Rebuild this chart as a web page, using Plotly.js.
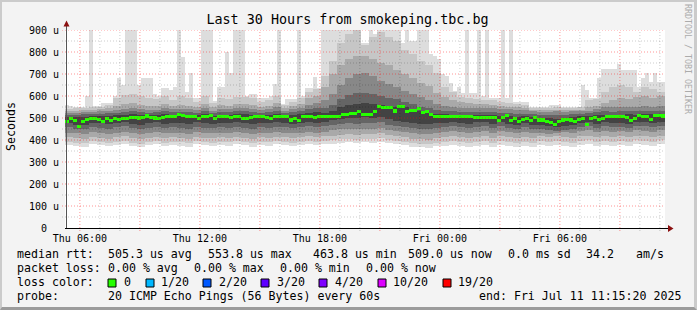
<!DOCTYPE html>
<html><head><meta charset="utf-8">
<script src="https://cdn.plot.ly/plotly-3.0.1.min.js"></script>
<style>
html,body{margin:0;padding:0;background:#f3f3f3;}
#wrap{position:relative;width:697px;height:310px;overflow:hidden;}
#chart{position:absolute;left:0;top:0;width:697px;height:310px;}
#frame{position:absolute;left:0;top:0;width:697px;height:310px;box-sizing:border-box;
 border-top:2px solid #cbcbcb;border-left:2px solid #cbcbcb;border-right:3px solid #cbcbcb;border-bottom:3px solid #9b9b9b;pointer-events:none;}
</style></head><body>
<div id="wrap"><div id="chart"></div><div id="frame"></div></div>
<script>
// ---- time axis (hours since Thu 00:00) ----
const HOURS_START = 5 + 15/60 + 20/3600;   // Thu 05:15:20
const HOURS_SPAN = 30;
const STEP_FINE = 0.2;    // 12 minute columns
const STEP_COARSE = 0.4;  // 24 minute columns (inner smoke bands)

const xTickVals = [6, 12, 18, 24, 30];
const xTickText = ['Thu 06:00', 'Thu 12:00', 'Thu 18:00', 'Fri 00:00', 'Fri 06:00'];
const xMajorGrid = [6, 9, 12, 15, 18, 21, 24, 27, 30, 33];
const xMinorGrid = [7, 8, 10, 11, 13, 14, 16, 17, 19, 20, 22, 23, 25, 26, 28, 29, 31, 32, 34, 35];
const yTickVals = [0, 100, 200, 300, 400, 500, 600, 700, 800, 900];
const yTickText = ['0\u00a0\u00a0', '100 u', '200 u', '300 u', '400 u', '500 u', '600 u', '700 u', '800 u', '900 u'];
const yMinorGrid = [50, 150, 250, 350, 450, 550, 650, 750, 850];

// ---- max rtt per 12-min column (µs) ----
const maxRtt = [
 560,555,550,548,548,600,920,556,556,570,
 570,570,600,682,651,920,920,920,651,683,
 683,683,610,600,637,637,628,640,920,777,
 616,706,592,592,920,920,920,578,640,640,
 800,706,920,920,920,600,610,610,590,590,
 590,600,655,920,565,585,585,585,920,600,
 635,635,687,635,920,920,920,920,920,920,
 920,920,920,920,840,840,920,880,920,920,
 920,920,920,920,840,920,850,850,900,900,
 900,790,780,770,700,690,660,625,640,615,
 920,615,615,920,600,920,590,590,590,920,
 590,920,575,575,575,575,550,550,550,550,
 550,560,560,560,550,550,550,550,550,651,
 628,590,590,683,722,722,722,722,745,716,
 716,716,716,640,683,706,665,706,665,665];

// ---- median rtt per 12-min column (µs) ----
const medianRtt = [
 484,499,487,462,484,493,499,499,493,486,
 496,490,498,494,496,499,503,503,500,504,
 509,504,500,496,502,508,508,508,517,511,
 508,505,505,499,508,505,510,496,508,505,
 505,502,505,505,496,496,502,508,508,508,
 503,496,508,508,508,508,491,499,487,508,
 508,508,503,505,505,505,505,508,508,514,
 514,520,520,529,518,514,518,529,551,546,
 546,546,532,551,551,529,533,533,544,523,
 529,514,505,508,508,505,508,508,505,505,
 506,506,502,502,502,502,502,502,487,502,
 511,488,496,486,493,499,488,503,491,491,
 484,478,470,486,491,493,491,486,493,499,
 472,499,503,493,499,508,505,508,508,508,
 503,490,496,511,508,508,493,510,510,509];

// ---- smoke bands per 24-min column (µs) ----
const minRtt = [
 378,372,370,380,376,372,378,382,374,368,376,380,372,378,374,370,380,376,372,378,374,380,376,370,378,374,380,376,372,378,382,376,
 380,384,388,390,386,390,388,392,385,380,376,370,368,365,372,
 375,378,372,368,374,378,370,376,372,368,374,370,376,372,378,374,370,376,380,372,378,374,376,372,380,378,374,380];
const band2Lo = [
 392,388,386,394,390,388,392,396,388,384,390,394,388,392,390,386,394,390,388,392,390,394,390,386,392,390,394,392,388,392,396,392,
 396,400,404,406,402,406,404,408,400,396,392,386,384,382,388,
 392,394,390,386,392,396,388,394,390,386,392,388,394,390,396,392,388,394,398,390,396,392,394,390,398,396,392,398];
const band2Hi = [
 542,545,545,552,552,560,590,604,610,600,590,585,600,584,600,590,575,600,570,592,588,596,595,590,575,580,600,560,575,590,620,630,
 690,760,840,880,900,830,870,890,870,850,810,790,760,740,705,
 640,620,595,590,585,580,580,575,570,565,560,545,545,546,548,545,545,548,580,585,620,640,650,640,620,640,630,620];
const band3Lo = [
 412,408,406,414,410,406,412,416,408,404,410,414,408,412,410,406,414,410,408,412,410,414,410,406,412,410,414,412,408,412,416,412,
 416,420,424,428,424,428,426,430,422,416,412,406,404,402,408,
 414,418,412,408,414,418,410,416,412,408,414,410,416,412,418,414,410,416,420,412,418,414,416,412,420,418,414,420];
const band3Hi = [
 530,532,535,538,540,544,556,562,566,560,556,555,562,556,560,556,550,562,548,560,556,564,562,558,552,556,566,545,556,562,590,600,
 640,700,740,770,782,780,770,750,740,720,700,680,660,646,615,
 595,580,572,568,565,562,560,556,552,548,545,535,535,535,538,535,536,538,548,556,566,580,592,588,596,602,590,598];
const band4Lo = [
 434,430,428,436,432,428,434,438,430,426,432,436,430,434,432,428,436,432,430,434,432,436,432,428,434,432,436,434,430,434,438,434,
 438,444,448,452,448,452,450,454,446,440,436,430,428,426,432,
 436,440,436,432,438,442,434,440,436,432,438,430,432,428,432,436,434,440,444,436,442,438,440,436,444,442,438,444];
const band4Hi = [
 522,524,526,528,530,532,538,542,546,542,538,538,544,540,542,540,536,544,534,542,540,546,544,540,536,540,548,534,540,546,560,570,
 580,610,650,680,700,705,690,670,655,640,625,610,595,580,565,
 556,550,546,544,544,546,544,540,540,536,536,530,528,528,530,528,530,530,534,540,548,552,552,548,552,556,552,556];
const band5Lo = [
 458,452,450,458,455,452,458,462,454,450,456,460,454,458,456,452,460,456,454,458,456,460,456,452,458,456,460,458,454,458,462,458,
 462,468,472,476,472,478,476,480,470,464,460,454,452,450,456,
 458,462,458,454,460,464,456,462,456,452,458,452,448,444,440,444,448,458,464,456,462,458,460,456,464,462,458,464];
const band5Hi = [
 514,515,516,518,520,522,524,526,530,528,524,526,530,526,528,526,524,530,522,528,526,530,530,526,524,526,532,522,526,530,540,545,
 545,560,585,605,612,615,608,600,592,585,575,565,552,545,538,
 532,530,528,526,526,528,526,522,522,518,520,516,514,512,512,514,518,520,524,528,530,528,530,532,530,532,534,532];
const band6Lo = [
 478,470,468,478,476,472,478,482,474,470,476,480,474,478,476,472,480,476,474,478,476,480,476,472,478,476,480,478,474,478,482,478,
 484,490,496,502,498,504,500,506,494,486,482,476,474,472,478,
 478,482,478,474,480,484,474,480,474,470,476,470,466,462,458,462,466,478,482,474,480,476,478,474,482,480,476,482];
const band6Hi = [
 506,505,506,508,510,511,512,514,516,514,512,514,516,514,515,514,512,516,510,514,513,516,516,514,512,514,518,512,514,516,522,526,
 524,532,548,560,562,566,564,560,556,552,548,540,530,524,518,
 516,514,514,512,512,514,512,508,510,506,508,506,502,500,496,500,504,508,510,512,514,512,514,516,514,516,518,516];

// ---- legend texts ----
const statLine1 = ['median rtt:', '505.3 us avg', '553.8 us max', '463.8 us min', '509.0 us now', '0.0 ms sd', '34.2', 'am/s'];
const statLine2 = ['packet loss:', '0.00 % avg', '0.00 % max', '0.00 % min', '0.00 % now'];
const lossLabels = ['0', '1/20', '2/20', '3/20', '4/20', '10/20', '19/20'];
const lossColors = ['#26ff00', '#00b8ff', '#0059ff', '#5e00ff', '#7e00ff', '#dd00ff', '#ff0000'];
const probeLine = ['probe:', '20 ICMP Echo Pings (56 Bytes) every 60s', 'end: Fri Jul 11 11:15:20 2025'];

// ---- layout geometry (pixels) ----
const W = 697, H = 310, L = 65, R = 32, T = 30, B = 82;
const PW = W - L - R, PH = H - T - B;
const fx = px => (px - L) / PW;
const fy = py => (H - B - py) / PH;
const FONT = 'DejaVu Sans Mono';
const MEDIAN_HALF = 7;

const fineX = maxRtt.map((_, i) => HOURS_START + (i + 0.5) * STEP_FINE);
const coarseX = minRtt.map((_, j) => HOURS_START + (j + 0.5) * STEP_COARSE);

function band(x, lo, hi, width, color) {
  return {type: 'bar', x: x, base: lo, y: hi.map((h, k) => h - lo[k]), width: width,
    marker: {color: color, line: {width: 0}}, hoverinfo: 'skip', showlegend: false};
}
const traces = [
  band(fineX, maxRtt.map((_, i) => minRtt[i >> 1]), maxRtt, STEP_FINE, '#dddddd'),
  band(coarseX, band2Lo, band2Hi, STEP_COARSE, '#c6c6c6'),
  band(coarseX, band3Lo, band3Hi, STEP_COARSE, '#a9a9a9'),
  band(coarseX, band4Lo, band4Hi, STEP_COARSE, '#888888'),
  band(coarseX, band5Lo, band5Hi, STEP_COARSE, '#656565'),
  band(coarseX, band6Lo, band6Hi, STEP_COARSE, '#434343'),
  band(fineX, medianRtt.map(v => v - MEDIAN_HALF), medianRtt.map(v => v + MEDIAN_HALF), STEP_FINE, lossColors[0])
];

const shapes = [];
const MAJ = 'rgba(255,0,0,0.42)', MIN = 'rgba(0,0,0,0.2)';
yMinorGrid.forEach(v => shapes.push({type:'line', layer:'above', xref:'paper', yref:'y', x0:fx(62), x1:1, y0:v, y1:v, line:{color:MIN, width:1, dash:'1px,2px'}}));
yTickVals.filter(v => v > 0).forEach(v => shapes.push({type:'line', layer:'above', xref:'paper', yref:'y', x0:fx(62), x1:1, y0:v, y1:v, line:{color:MAJ, width:1, dash:'1px,2px'}}));
xMinorGrid.forEach(h => shapes.push({type:'line', layer:'above', xref:'x', yref:'paper', x0:h, x1:h, y0:fy(231), y1:1, line:{color:MIN, width:1, dash:'1px,2px'}}));
xMajorGrid.forEach(h => shapes.push({type:'line', layer:'above', xref:'x', yref:'paper', x0:h, x1:h, y0:fy(231), y1:1, line:{color:MAJ, width:1, dash:'1px,2px'}}));
// axes
shapes.push({type:'line', layer:'above', xref:'paper', yref:'paper', x0:fx(66.5), x1:fx(66.5), y0:fy(228.5), y1:fy(25), line:{color:'#555555', width:1}});
shapes.push({type:'line', layer:'above', xref:'paper', yref:'paper', x0:fx(65), x1:fx(668), y0:fy(228.5), y1:fy(228.5), line:{color:'#000000', width:1}});
const tri = pts => 'M' + pts.map(p => fx(p[0]) + ',' + fy(p[1])).join('L') + 'Z';
shapes.push({type:'path', layer:'above', xref:'paper', yref:'paper', path: tri([[668,225],[673.5,228.5],[668,232]]), fillcolor:'#8b1010', line:{width:0}});
shapes.push({type:'path', layer:'above', xref:'paper', yref:'paper', path: tri([[63.5,26.5],[66.5,20.5],[69.5,26.5]]), fillcolor:'#8b1010', line:{width:0}});

// legend boxes
const boxX = [108, 146, 203, 261, 319, 378, 443];
const labX = [123, 160, 218, 276, 334, 392, 457];
lossColors.forEach((c, k) => shapes.push({type:'rect', layer:'above', xref:'paper', yref:'paper',
  x0:fx(boxX[k]), x1:fx(boxX[k] + 8), y0:fy(287), y1:fy(279), fillcolor:c, line:{color:'#000', width:1}}));

const annotations = [];
function txt(s, px, py, size, extra) {
  annotations.push(Object.assign({text: s, x: fx(px), y: fy(py), xref:'paper', yref:'paper', showarrow:false,
    xanchor:'left', yanchor:'middle', borderpad:0, font:{family:FONT, size:size, color:'#000'}}, extra || {}));
}
const LS = 11.6;
[16, 107, 207, 312, 407, 507, 585, 635].forEach((px, k) => txt(statLine1[k], px, 254.3, LS));
[16, 107, 193, 279, 365].forEach((px, k) => txt(statLine2[k], px, 268.3, LS));
txt('loss color:', 16, 282.3, LS);
lossLabels.forEach((s, k) => txt(s, labX[k], 282.3, LS));
[16, 107, 478].forEach((px, k) => txt(probeLine[k], px, 295.7, LS));
txt('Seconds', 11, 127, LS, {xanchor:'center', textangle:-90});
txt('RRDTOOL / TOBI OETIKER', 688, 59, 8.3, {xanchor:'center', textangle:90, font:{family:FONT, size:8.3, color:'#ababab'}});

const layout = {
  width: W, height: H,
  margin: {l: L, r: R, t: T, b: B, pad: 0},
  paper_bgcolor: '#f3f3f3', plot_bgcolor: '#ffffff',
  barmode: 'overlay', bargap: 0, showlegend: false,
  font: {family: FONT, color: '#000'},
  title: {text: 'Last 30 Hours from smokeping.tbc.bg', x: 347.5 / W, xanchor: 'center', y: 1 - 19.3 / H, yanchor: 'middle',
          font: {family: FONT, size: 13.4, color: '#000'}},
  xaxis: {range: [HOURS_START, HOURS_START + HOURS_SPAN], tickvals: xTickVals, ticktext: xTickText,
          showgrid: false, zeroline: false, showline: false, ticks: 'outside', ticklen: 1, tickcolor: 'rgba(0,0,0,0)',
          tickfont: {family: FONT, size: 10, color: '#000'}, fixedrange: true},
  yaxis: {range: [0, 900], tickvals: yTickVals, ticktext: yTickText,
          showgrid: false, zeroline: false, showline: false, ticks: 'outside', ticklen: 3, tickcolor: 'rgba(0,0,0,0)',
          tickfont: {family: FONT, size: 10, color: '#000'}, fixedrange: true},
  shapes: shapes, annotations: annotations
};
Plotly.newPlot('chart', traces, layout, {staticPlot: true, displayModeBar: false});
</script></body></html>
